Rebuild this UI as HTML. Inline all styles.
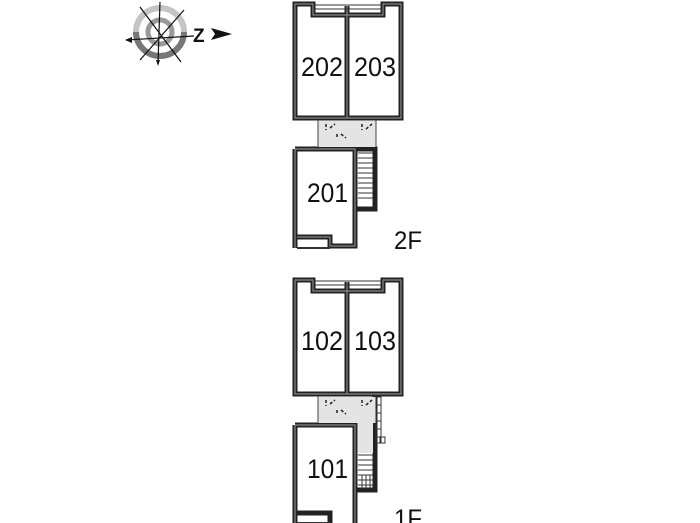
<!DOCTYPE html>
<html><head><style>html,body{margin:0;padding:0;background:#fff}svg{display:block}text{font-family:"Liberation Sans",sans-serif;fill:#111}</style></head>
<body>
<svg width="700" height="523" viewBox="0 0 700 523" xmlns="http://www.w3.org/2000/svg">
<!-- compass -->
<g>
<circle cx="160" cy="32" r="24" fill="none" stroke="#c4c4c4" stroke-width="6"/>
<path d="M136 32 A24 24 0 0 0 184 32" fill="none" stroke="#777" stroke-width="6"/>
<circle cx="160" cy="32" r="12" fill="none" stroke="#999" stroke-width="5"/>
<g stroke="#111" stroke-width="1.2">
<line x1="126" y1="40" x2="194" y2="36"/>
<line x1="160" y1="2" x2="158" y2="64"/>
<line x1="140" y1="7" x2="181" y2="62"/>
<line x1="184" y1="10" x2="140" y2="60"/>
</g>
<polygon points="125,40 132,37 132,43" fill="#111"/>
<polygon points="156,60 160,60 158,66" fill="#111"/>
<text x="193" y="42" font-size="19" font-weight="bold">Z</text>
<polygon points="211,28 232,34 211,40 215,34" fill="#111"/>
</g>
<g fill="none" stroke="#222" stroke-width="5">
<path d="M313 15 L313 4 L295 4 L295 118 L401 118 L401 4 L383 4 L383 15 Z"/>
<line x1="347" y1="6" x2="347" y2="118"/>
<path d="M295 149 L355 149 L355 246 L330 246 L330 237 L297 237"/>
<line x1="295" y1="149" x2="295" y2="248"/>
<path d="M357 149 L375 149 L375 209 L357 209"/>
<path d="M313 291 L313 280 L295 280 L295 394 L401 394 L401 280 L383 280 L383 291 Z"/>
<line x1="347" y1="282" x2="347" y2="394"/>
<path d="M295 425 L355 425 L355 523"/>
<line x1="295" y1="425" x2="295" y2="523"/>
<path d="M297 513 L330 513 L330 523"/>
<path d="M375 396 L375 490 L357 490"/>
</g>
<g fill="none" stroke="#888" stroke-width="1.2">
<path d="M313 15 L313 4 L295 4 L295 118 L401 118 L401 4 L383 4 L383 15 Z"/>
<line x1="347" y1="6" x2="347" y2="118"/>
<path d="M295 149 L355 149 L355 246 L330 246 L330 237 L297 237"/>
<line x1="295" y1="149" x2="295" y2="248"/>
<path d="M313 291 L313 280 L295 280 L295 394 L401 394 L401 280 L383 280 L383 291 Z"/>
<line x1="347" y1="282" x2="347" y2="394"/>
<path d="M295 425 L355 425 L355 523"/>
<line x1="295" y1="425" x2="295" y2="523"/>
</g>
<g stroke="#333" stroke-width="1" fill="none">
<line x1="315" y1="5" x2="381" y2="5"/><line x1="315" y1="9" x2="381" y2="9"/>
<line x1="315" y1="281" x2="381" y2="281"/><line x1="315" y1="285" x2="381" y2="285"/>
<line x1="297" y1="248" x2="330" y2="248" stroke-width="2"/>
<line x1="297" y1="523" x2="330" y2="523" stroke-width="2"/>
</g>
<rect x="318" y="121" width="58" height="26" fill="#e4e4e4"/>
<line x1="318" y1="120" x2="318" y2="147" stroke="#444"/>
<line x1="376" y1="120" x2="376" y2="147" stroke="#444"/>
<rect x="318" y="397" width="58" height="26" fill="#e4e4e4"/>
<rect x="358" y="423" width="15" height="30" fill="#e4e4e4"/>
<line x1="318" y1="396" x2="318" y2="423" stroke="#444"/>
<g stroke="#222" stroke-width="1.5" stroke-dasharray="3,2">
<path d="M326 124 v6 M330 128 l5 -4 M337 134 v5 M341 134 l5 4 M362 124 v6 M366 129 l6 -5"/>
<path d="M326 400 v6 M330 404 l5 -4 M337 410 v5 M341 410 l5 4 M362 400 v6 M366 405 l6 -5"/>
</g>
<g stroke="#333" stroke-width="1">
<line x1="358" y1="153" x2="373" y2="153"/><line x1="358" y1="158" x2="373" y2="158"/><line x1="358" y1="163" x2="373" y2="163"/><line x1="358" y1="168" x2="373" y2="168"/><line x1="358" y1="173" x2="373" y2="173"/><line x1="358" y1="178" x2="373" y2="178"/><line x1="358" y1="183" x2="373" y2="183"/><line x1="358" y1="188" x2="373" y2="188"/><line x1="358" y1="193" x2="373" y2="193"/><line x1="358" y1="198" x2="373" y2="198"/>
<line x1="358" y1="455" x2="373" y2="455"/><line x1="358" y1="460" x2="373" y2="460"/><line x1="358" y1="465" x2="373" y2="465"/><line x1="358" y1="470" x2="373" y2="470"/><line x1="358" y1="475" x2="373" y2="475"/><line x1="358" y1="480" x2="373" y2="480"/><line x1="358" y1="485" x2="373" y2="485"/>
<line x1="362" y1="475" x2="362" y2="489"/><line x1="366" y1="475" x2="366" y2="489"/><line x1="370" y1="475" x2="370" y2="489"/>
<rect x="376" y="397" width="5" height="46" fill="none"/>
<line x1="376" y1="405" x2="381" y2="405"/><line x1="376" y1="413" x2="381" y2="413"/><line x1="376" y1="421" x2="381" y2="421"/><line x1="376" y1="429" x2="381" y2="429"/><line x1="376" y1="437" x2="381" y2="437"/>
<rect x="380" y="437" width="5" height="6" fill="none"/>
</g>
<g font-size="27">
<text x="301" y="76" textLength="42" lengthAdjust="spacingAndGlyphs">202</text>
<text x="354" y="76" textLength="42" lengthAdjust="spacingAndGlyphs">203</text>
<text x="307" y="202" textLength="41" lengthAdjust="spacingAndGlyphs">201</text>
<text x="394" y="249" font-size="25" textLength="28" lengthAdjust="spacingAndGlyphs">2F</text>
<text x="301" y="350" textLength="42" lengthAdjust="spacingAndGlyphs">102</text>
<text x="354" y="350" textLength="42" lengthAdjust="spacingAndGlyphs">103</text>
<text x="307" y="478" textLength="41" lengthAdjust="spacingAndGlyphs">101</text>
<text x="394" y="527" font-size="25" textLength="28" lengthAdjust="spacingAndGlyphs">1F</text>
</g>
</svg>
</body></html>
